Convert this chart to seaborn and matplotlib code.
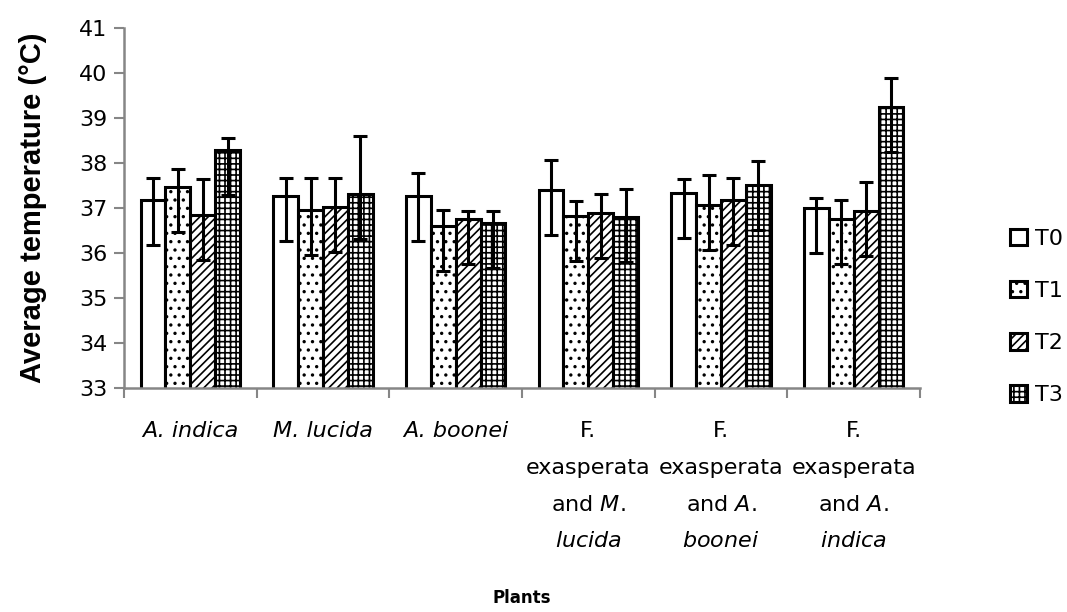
import numpy as np
import pandas as pd
import matplotlib
matplotlib.use("Agg")
import matplotlib.pyplot as plt
import seaborn as sns

plants = ["A. indica", "M. lucida", "A. boonei",
          "F. exasperata and M. lucida", "F. exasperata and A. boonei",
          "F. exasperata and A. indica"]
tick_labels = [
    "A. indica",
    "M. lucida",
    "A. boonei",
    "F.\nexasperata\nand $\\it{M.}$\n$\\it{lucida}$",
    "F.\nexasperata\nand $\\it{A.}$\n$\\it{boonei}$",
    "F.\nexasperata\nand $\\it{A.}$\n$\\it{indica}$",
]
italic_labels = [True, True, True, False, False, False]
treatments = ["T0", "T1", "T2", "T3"]

t0 = [37.17, 37.27, 37.27, 37.40, 37.33, 36.99]
t1 = [37.47, 36.96, 36.59, 36.81, 37.07, 36.74]
t2 = [36.84, 37.02, 36.74, 36.89, 37.17, 36.93]
t3 = [38.28, 37.30, 36.67, 36.79, 37.50, 39.24]

# error bars: upper and lower parts read separately
t0_up = [0.50, 0.40, 0.50, 0.66, 0.31, 0.22]
t1_up = [0.40, 0.71, 0.37, 0.33, 0.65, 0.44]
t2_up = [0.80, 0.65, 0.18, 0.41, 0.50, 0.65]
t3_up = [0.27, 1.29, 0.25, 0.62, 0.53, 0.64]
t0_low = [1.0, 1.0, 1.0, 1.0, 1.0, 1.0]
t1_low = [1.0, 1.0, 1.0, 1.0, 1.0, 1.0]
t2_low = [1.0, 1.0, 1.0, 1.0, 1.0, 1.0]
t3_low = [1.0, 1.0, 1.0, 1.0, 1.0, 1.0]

means = [t0, t1, t2, t3]
ups = [t0_up, t1_up, t2_up, t3_up]
lows = [t0_low, t1_low, t2_low, t3_low]

plt.rcParams["hatch.color"] = "black"
plt.rcParams["hatch.linewidth"] = 1.2

df = pd.DataFrame({
    "plant": plants * 4,
    "treatment": np.repeat(treatments, len(plants)),
    "temp": t0 + t1 + t2 + t3,
})

fig = plt.figure(figsize=(10.67, 6.12), dpi=100)
ax = fig.add_axes([0.1162, 0.3665, 0.746, 0.5882])

sns.barplot(data=df, x="plant", y="temp", hue="treatment", order=plants,
            hue_order=treatments, palette=["white"] * 4, errorbar=None,
            width=0.75, edgecolor="black", linewidth=2.2, legend=False, ax=ax)

hatches = ["", "..", "////", "+++"]
for cont, h, m, up, lo in zip(ax.containers, hatches, means, ups, lows):
    xs = []
    for p in cont.patches:
        p.set_hatch(h)
        xs.append(p.get_x() + p.get_width() / 2)
    ax.errorbar(xs, m, yerr=[lo, up], fmt="none", ecolor="black",
                elinewidth=2.2, capsize=5, capthick=2.2, zorder=5)

ax.set_ylim(33, 41)
ax.set_yticks(range(33, 42))
ax.set_xlim(-0.5, 5.5)
ax.set_xticks(range(len(plants)), tick_labels)
ax.set_xticks(np.arange(-0.5, 6, 1), minor=True)

for s in ["top", "right"]:
    ax.spines[s].set_visible(False)
for s in ["left", "bottom"]:
    ax.spines[s].set_color("#868686")
    ax.spines[s].set_linewidth(1.8)

ax.tick_params(axis="y", length=7, width=1.5, color="#868686",
               labelsize=16, pad=5)
ax.tick_params(axis="x", which="major", length=0, labelsize=16, pad=24)
ax.tick_params(axis="x", which="minor", length=7, width=1.5, color="#868686")
for lbl, it in zip(ax.get_xticklabels(), italic_labels):
    lbl.set_linespacing(2.05)
    lbl.set_verticalalignment("top")
    if it:
        lbl.set_fontstyle("italic")

ax.set_ylabel("Average temperature (°C)", fontsize=21, fontweight="bold",
              family="Liberation Sans")
ax.yaxis.set_label_coords(-0.114, 0.5)
ax.yaxis.label.set_verticalalignment("center")

ax.set_xlabel("Plants", fontsize=12, fontweight="bold")
ax.xaxis.set_label_coords(0.5, -0.584)
ax.xaxis.label.set_verticalalignment("center")

ax.legend(handles=list(ax.containers), labels=treatments, loc="center left",
          bbox_to_anchor=(0.947, 0.482), bbox_transform=fig.transFigure,
          frameon=False, fontsize=16, handlelength=0.75, handleheight=0.75,
          labelspacing=1.45, handletextpad=0.35, borderpad=0, borderaxespad=0)

plt.savefig("out.png", dpi=100)
